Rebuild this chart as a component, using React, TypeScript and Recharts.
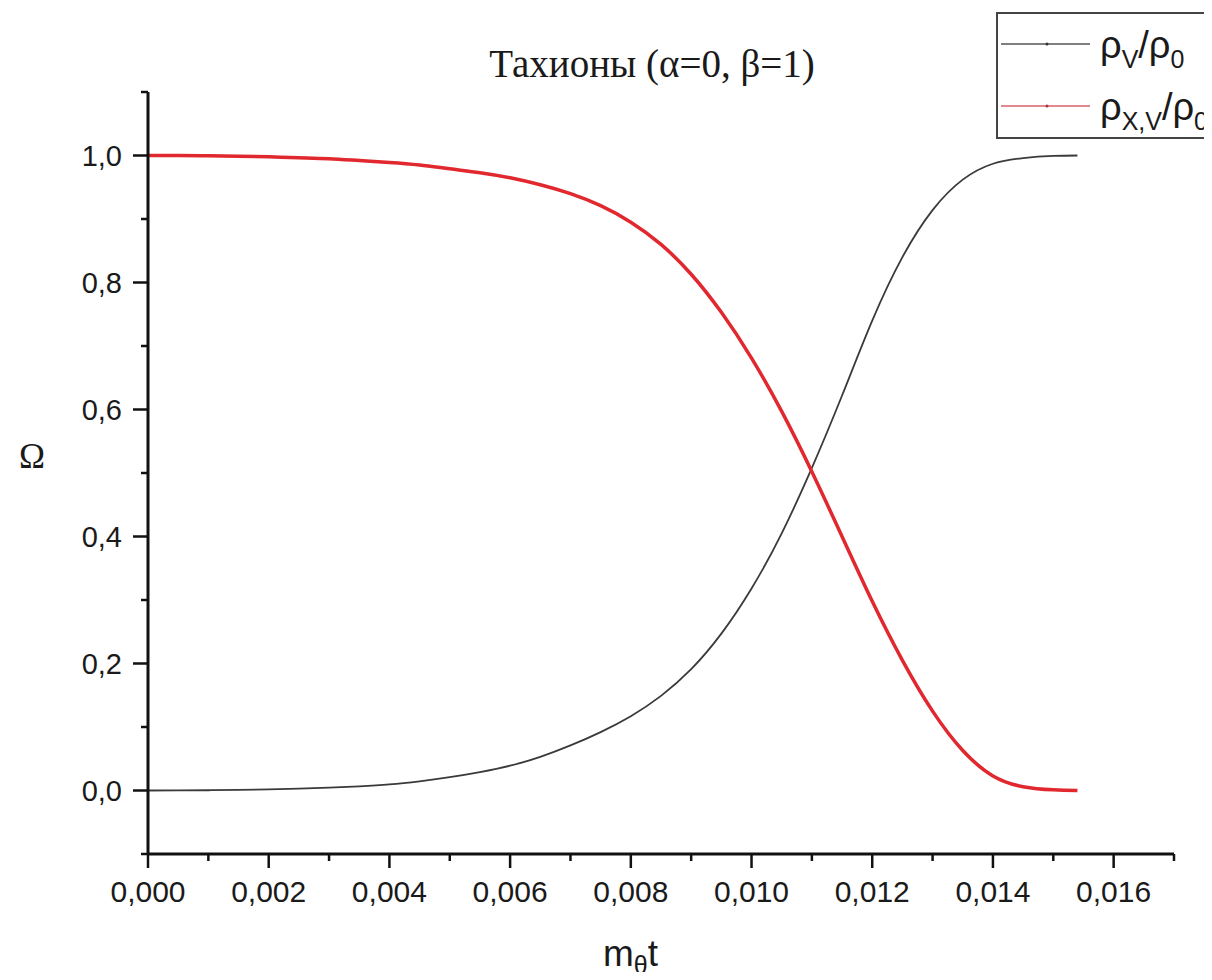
import React from "react";
import { LineChart, Line, XAxis, YAxis } from "recharts";

const tValues = [
  0, 0.0005, 0.001, 0.0015, 0.002, 0.0025, 0.003, 0.0035, 0.004, 0.0045, 0.005,
  0.0055, 0.006, 0.0065, 0.007, 0.0075, 0.008, 0.0085, 0.009, 0.0095, 0.01,
  0.0105, 0.011, 0.0115, 0.012, 0.0125, 0.013, 0.0135, 0.014, 0.0145, 0.015, 0.0154,
];
const rhoV = [
  0, 0.0001, 0.0004, 0.0009, 0.0018, 0.0029, 0.0044, 0.0065, 0.0095, 0.0145, 0.021,
  0.029, 0.039, 0.053, 0.071, 0.092, 0.117, 0.149, 0.191, 0.247, 0.318,
  0.405, 0.508, 0.622, 0.74, 0.84, 0.914, 0.962, 0.987, 0.996, 0.9993, 1.0,
];
const rhoXV = [
  1, 0.9999, 0.9995, 0.999, 0.998, 0.9965, 0.995, 0.992, 0.989, 0.985, 0.979,
  0.973, 0.965, 0.954, 0.94, 0.921, 0.895, 0.86, 0.813, 0.753, 0.681,
  0.597, 0.502, 0.4, 0.298, 0.205, 0.125, 0.063, 0.023, 0.006, 0.001, 0,
];
const xTicks = [
  0, 0.001, 0.002, 0.003, 0.004, 0.005, 0.006, 0.007, 0.008, 0.009, 0.01, 0.011,
  0.012, 0.013, 0.014, 0.015, 0.016, 0.017,
];
const yTicks = [-0.1, 0, 0.1, 0.2, 0.3, 0.4, 0.5, 0.6, 0.7, 0.8, 0.9, 1.0, 1.1];

const data = tValues.map((t, i) => ({ t, v: rhoV[i], xv: rhoXV[i] }));

const SANS = "'Liberation Sans', Arial, sans-serif";
const SERIF = "'Liberation Serif', 'Times New Roman', serif";

const XTick = (props: any) => {
  const { x, y, payload } = props;
  const k = Math.round(payload.value * 1000);
  const major = k % 2 === 0 && k <= 16;
  return (
    <g>
      <line x1={x} y1={y} x2={x} y2={y + (major ? 14 : 7)} stroke="#111" strokeWidth={2.5} />
      {major && (
        <text x={x} y={y + 48} textAnchor="middle" fontFamily={SANS} fontSize={30} fill="#1a1a1a">
          {payload.value.toFixed(3).replace(".", ",")}
        </text>
      )}
    </g>
  );
};

const YTick = (props: any) => {
  const { x, y, payload } = props;
  const k = Math.round(payload.value * 10);
  const major = k % 2 === 0 && k >= 0 && k <= 10;
  return (
    <g>
      <line x1={x} y1={y} x2={x - (major ? 15 : 7)} y2={y} stroke="#111" strokeWidth={2.5} />
      {major && (
        <text x={x - 26} y={y + 10} textAnchor="end" fontFamily={SANS} fontSize={29} fill="#1a1a1a">
          {(k / 10).toFixed(1).replace(".", ",")}
        </text>
      )}
    </g>
  );
};

export default function App() {
  return (
    <div style={{ margin: -8, position: "relative", width: 1212, height: 980, background: "#fff", overflow: "hidden" }}>
      <LineChart
        width={1212}
        height={980}
        data={data}
        margin={{ top: 92, right: 38, bottom: 66, left: 0 }}
      >
        <XAxis
          dataKey="t"
          type="number"
          domain={[0, 0.017]}
          ticks={xTicks}
          interval={0}
          height={60}
          tickSize={0}
          tickMargin={0}
          tickLine={false}
          axisLine={{ stroke: "#111", strokeWidth: 3 }}
          tick={<XTick />}
        />
        <YAxis
          type="number"
          domain={[-0.1, 1.1]}
          ticks={yTicks}
          interval={0}
          width={148}
          tickSize={0}
          tickMargin={0}
          tickLine={false}
          axisLine={{ stroke: "#111", strokeWidth: 3 }}
          tick={<YTick />}
        />
        <Line
          type="natural"
          dataKey="v"
          name="ρV/ρ0"
          stroke="#3a3a3a"
          strokeWidth={1.8}
          dot={false}
          isAnimationActive={false}
        />
        <Line
          type="natural"
          dataKey="xv"
          name="ρX,V/ρ0"
          stroke="#e0282e"
          strokeWidth={3.5}
          dot={false}
          isAnimationActive={false}
        />
      </LineChart>
      <svg
        width={1212}
        height={980}
        style={{ position: "absolute", left: 0, top: 0, pointerEvents: "none" }}
      >
        <text x={652} y={77} textAnchor="middle" fontFamily={SERIF} fontSize={39} fill="#1a1a1a">
          Тахионы (α=0, β=1)
        </text>
        <text x={32} y={468} textAnchor="middle" fontFamily={SERIF} fontSize={35} fill="#1a1a1a">
          Ω
        </text>
        <text x={603} y={966} fontFamily={SANS} fontSize={37} fill="#1a1a1a">
          m<tspan fontSize={25} dy={8}>θ</tspan>
          <tspan dy={-8}>t</tspan>
        </text>
        <g>
          <rect x={997} y={13} width={260} height={125} fill="#fff" stroke="#444" strokeWidth={2} />
          <line x1={1001} y1={44} x2={1090} y2={44} stroke="#555" strokeWidth={1.5} />
          <circle cx={1047} cy={44} r={1.5} fill="#333" />
          <text x={1100} y={58} fontFamily={SANS} fontSize={38} fill="#1a1a1a">
            ρ<tspan fontSize={25} dy={10}>V</tspan>
            <tspan dy={-10}>/ρ</tspan>
            <tspan fontSize={25} dy={10}>0</tspan>
          </text>
          <line x1={1001} y1={106} x2={1090} y2={106} stroke="#d9606a" strokeWidth={1.5} />
          <circle cx={1047} cy={106} r={1.5} fill="#b03040" />
          <text x={1100} y={120} fontFamily={SANS} fontSize={38} fill="#1a1a1a">
            ρ<tspan fontSize={25} dy={10}>X,V</tspan>
            <tspan dy={-10}>/ρ</tspan>
            <tspan fontSize={25} dy={10}>0</tspan>
          </text>
        </g>
      </svg>
    </div>
  );
}
